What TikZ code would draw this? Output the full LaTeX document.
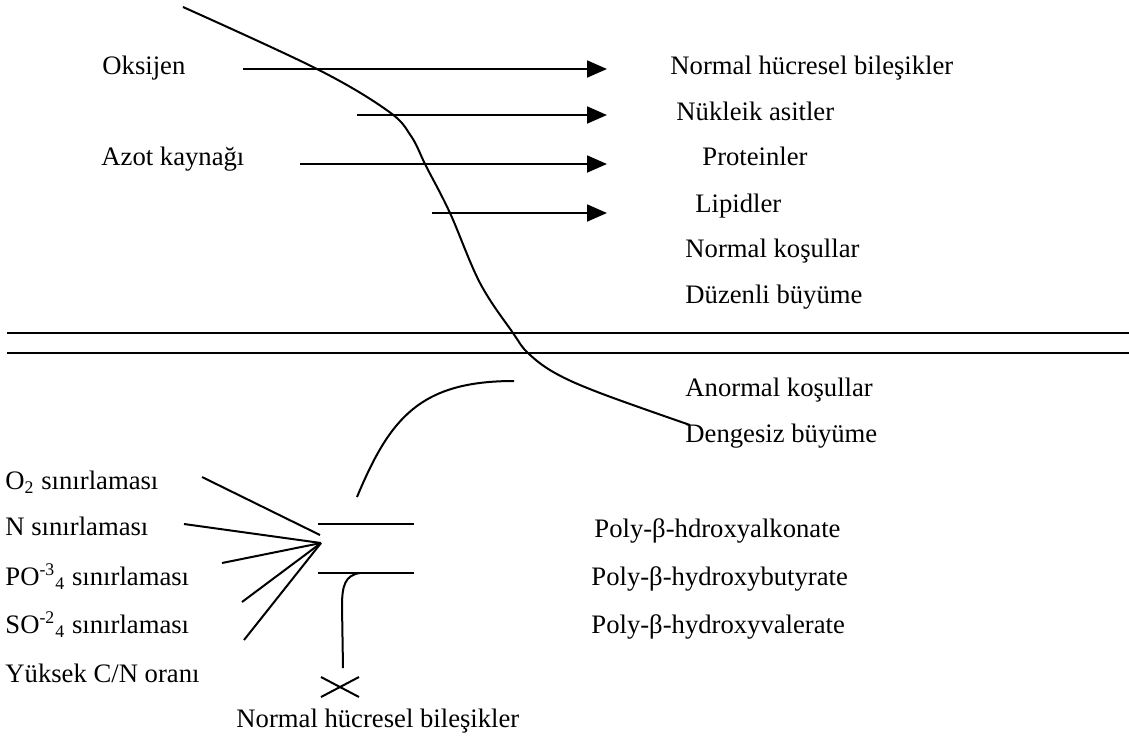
\documentclass[tikz,border=0pt]{standalone}
\usepackage{fontspec}
\setmainfont{Liberation Serif}
\usetikzlibrary{positioning, arrows.meta}

\begin{document}
\begin{tikzpicture}[
    x=0.45pt, y=-0.45pt,
    every node/.style={font=\fontsize{12pt}{14pt}\selectfont, inner sep=0pt, anchor=base west},
    line/.style={line width=0.9pt},
    flow/.style={line width=1pt, -{Triangle[length=9pt, width=7.6pt]}},
  ]
  \useasboundingbox (0,0) rectangle (1129,738);

  % Inputs
  \node (oks)  at (102,74)  {Oksijen};
  \node (azot) at (101,165) {Azot kaynağı};

  % Products
  \node (normal)  at (670,74)  {Normal hücresel bileşikler};
  \node (nukleik) at (676,120) {Nükleik asitler};
  \node (protein) at (702,165) {Proteinler};
  \node (lipid)   at (695,212) {Lipidler};
  \node (nkos)    at (685,257) {Normal koşullar};
  \node (duzen)   at (685,303) {Düzenli büyüme};
  \node (akos)    at (685,396) {Anormal koşullar};
  \node (denge)   at (685,442) {Dengesiz büyüme};

  \coordinate (in1) at (243,69);  \coordinate (out1) at (607,69);
  \coordinate (in2) at (357,115); \coordinate (out2) at (607,115);
  \coordinate (in3) at (300,164); \coordinate (out3) at (607,164);
  \coordinate (in4) at (432,213); \coordinate (out4) at (607,213);
  \draw[flow] (in1) -- (out1);
  \draw[flow] (in2) -- (out2);
  \draw[flow] (in3) -- (out3);
  \draw[flow] (in4) -- (out4);

  % Separator
  \coordinate (sepA) at (7,333);  \coordinate (sepB) at (1129,333);
  \coordinate (sepC) at (7,353);  \coordinate (sepD) at (1129,353);
  \draw[line] (sepA) -- (sepB);
  \draw[line] (sepC) -- (sepD);

  % Growth curve
  \draw[line] plot[smooth, tension=0.6] coordinates {
    (183,7) (317,69) (388,111) (411,136) (426,166) (450,213) (480,283)
    (513,333) (528,353) (555,373) (600,393) (690,425)};

  % Limitations
  \node (o2)  at (5,489) {O\textsubscript{2} sınırlaması};
  \node (n)   at (5,535) {N sınırlaması};
  \node (po4) at (5,585) {PO\textsuperscript{-3}\textsubscript{4} sınırlaması};
  \node (so4) at (5,633) {SO\textsuperscript{-2}\textsubscript{4} sınırlaması};
  \node (cn)  at (5,682) {Yüksek C/N oranı};

  \coordinate (lim)   at (321,543);
  \coordinate (limO)  at (320,535);
  \coordinate (fan1)  at (202,477);
  \coordinate (fan2)  at (184,524);
  \coordinate (fan3)  at (222,563);
  \coordinate (fan4)  at (242,602);
  \coordinate (fan5)  at (244,640);
  \draw[line] (fan1) -- (limO);
  \draw[line] (fan2) -- (lim);
  \draw[line] (fan3) -- (lim);
  \draw[line] (fan4) -- (lim);
  \draw[line] (fan5) -- (lim);

  \coordinate (barA) at (318,524); \coordinate (barB) at (414,524);
  \coordinate (barC) at (318,573); \coordinate (barD) at (414,573);
  \draw[line] (barA) -- (barB);
  \draw[line] (barC) -- (barD);

  % Storage polymers
  \node (pha) at (594,537) {Poly-β-hdroxyalkonate};
  \node (phb) at (591,585) {Poly-β-hydroxybutyrate};
  \node (phv) at (591,633) {Poly-β-hydroxyvalerate};

  \coordinate (up0) at (357,497); \coordinate (up1) at (514,381);
  \draw[line] (up0) .. controls (390,418) and (420,381) .. (up1);

  \coordinate (dn0) at (360,573); \coordinate (dn1) at (343,668);
  \draw[line] (dn0) .. controls (345,575) and (342,586) .. (342,606) -- (dn1);

  \coordinate (cross) at (340,687);
  \draw[line] (cross) +(-19,-10) -- +(19,10);
  \draw[line] (cross) +(-19,10) -- +(19,-10);
  \node (nhb) at (236,727) {Normal hücresel bileşikler};
\end{tikzpicture}
\end{document}
